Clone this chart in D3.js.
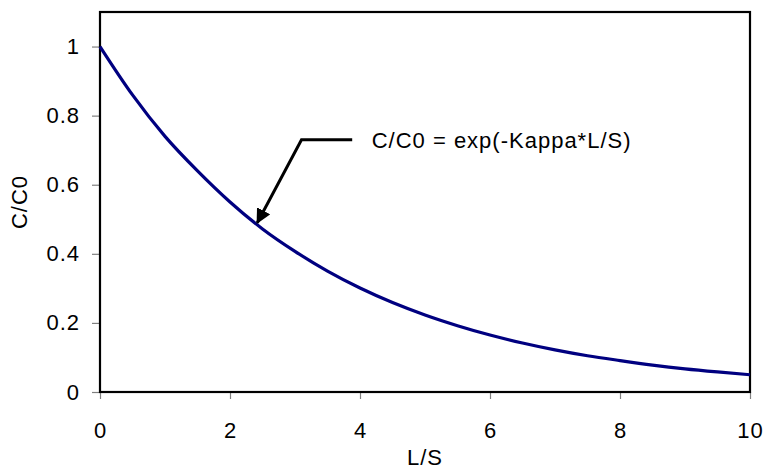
<!DOCTYPE html>
<html>
<head>
<meta charset="utf-8">
<script src="https://cdn.jsdelivr.net/npm/d3@7"></script>
<style>
  body { margin: 0; background: #fff; }
  text { font-family: "Liberation Sans", Arial, sans-serif; font-size: 22px; letter-spacing: 1px; }
</style>
</head>
<body>
<div id="chart"></div>
<script>
// values
var ls = [0, 0.5, 1, 1.5, 2, 2.5, 3, 3.5, 4, 4.5, 5, 5.5, 6, 6.5, 7, 7.5, 8, 8.5, 9, 9.5, 10];
var ratio = [1, 0.86, 0.74, 0.64, 0.55, 0.472, 0.407, 0.35, 0.301, 0.259, 0.223, 0.192, 0.165, 0.142, 0.122, 0.105, 0.091, 0.078, 0.067, 0.058, 0.05];
var xTicks = [0, 2, 4, 6, 8, 10];
var yTicks = [0, 0.2, 0.4, 0.6, 0.8, 1];
var yTickLabels = ["0", "0.2", "0.4", "0.6", "0.8", "1"];
// annotation arrow in data units: start, elbow, tip
var arrowPts = [[3.88, 0.73], [3.1, 0.73], [2.42, 0.49]];
var noteLabel = "C/C0 = exp(-Kappa*L/S)";

var width = 766,
    height = 471,
    margin = { top: 12, right: 16, bottom: 79, left: 100 };

var svg = d3.select("#chart")
            .append("svg")
            .attr("width", width)
            .attr("height", height);

var x = d3.scaleLinear().domain([0, 10]).range([margin.left, width - margin.right]);
var y = d3.scaleLinear().domain([0, 1.1]).range([height - margin.bottom, margin.top]);

// ticks
var xAxis = svg.append("g")
   .attr("transform", "translate(0," + y(0) + ")")
   .call(d3.axisBottom(x).tickValues(xTicks).tickSize(7).tickFormat(d3.format("d")));
var yAxis = svg.append("g")
   .attr("transform", "translate(" + x(0) + ",0)")
   .call(d3.axisLeft(y).tickValues(yTicks).tickSize(8).tickPadding(12)
         .tickFormat(function (d, i) { return yTickLabels[i]; }));

[xAxis, yAxis].forEach(function (a) {
  a.attr("font-size", null).attr("font-family", null);
  a.select(".domain").remove();
  a.selectAll(".tick line").attr("stroke", "#808080").attr("stroke-width", 1.2);
  a.selectAll(".tick text").attr("fill", "#000");
});
xAxis.selectAll(".tick text").attr("y", 46).attr("dy", 0);

// plot frame
svg.append("rect")
   .attr("x", x(0))
   .attr("y", y(1.1))
   .attr("width", x(10) - x(0))
   .attr("height", y(0) - y(1.1))
   .attr("fill", "none")
   .attr("stroke", "#000")
   .attr("stroke-width", 2.2);

// curve
var line = d3.line()
   .x(function (d) { return x(d[0]); })
   .y(function (d) { return y(d[1]); })
   .curve(d3.curveMonotoneX);

svg.append("path")
   .datum(d3.zip(ls, ratio))
   .attr("d", line)
   .attr("fill", "none")
   .attr("stroke", "#000080")
   .attr("stroke-width", 3.2)
   .attr("stroke-linejoin", "round");

// arrow
svg.append("defs").append("marker")
   .attr("id", "head")
   .attr("viewBox", "0 0 10 10")
   .attr("refX", 9)
   .attr("refY", 5)
   .attr("markerWidth", 5)
   .attr("markerHeight", 5)
   .attr("markerUnits", "strokeWidth")
   .attr("orient", "auto")
   .append("path")
   .attr("d", "M0,0 L10,5 L0,10 Z")
   .attr("fill", "#000");

svg.append("path")
   .attr("d", d3.line()(arrowPts.map(function (p) { return [x(p[0]), y(p[1])]; })))
   .attr("fill", "none")
   .attr("stroke", "#000")
   .attr("stroke-width", 3)
   .attr("marker-end", "url(#head)");

svg.append("text")
   .attr("x", x(4.18))
   .attr("y", y(0.73) + 8)
   .text(noteLabel);

// axis titles
svg.append("text")
   .attr("x", 425)
   .attr("y", 465)
   .attr("text-anchor", "middle")
   .text("L/S");

svg.append("text")
   .attr("transform", "translate(27," + (y(0) + y(1.1)) / 2 + ") rotate(-90)")
   .attr("text-anchor", "middle")
   .text("C/C0");
</script>
</body>
</html>
